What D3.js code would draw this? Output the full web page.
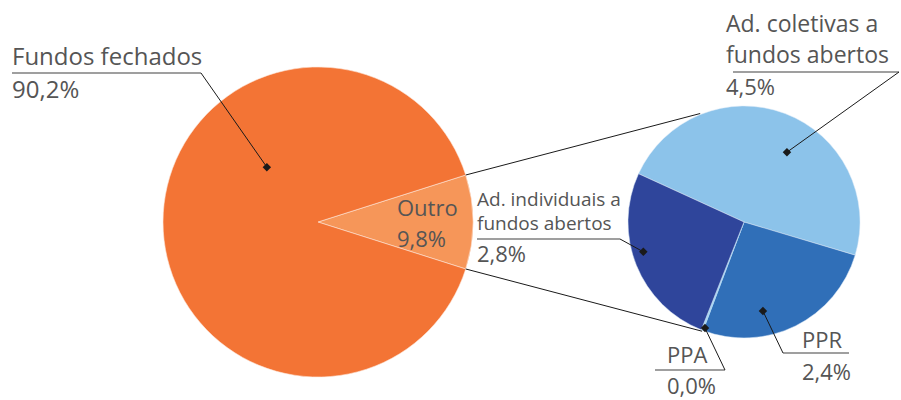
<!DOCTYPE html>
<html>
<head>
<meta charset="utf-8">
<script src="https://cdn.jsdelivr.net/npm/d3@7"></script>
<style>
  body { margin: 0; background: #fff; }
  svg text { font-family: "Open Sans", sans-serif; fill: #555; }
</style>
</head>
<body>
<svg id="chart" width="901" height="400"></svg>
<script>
// main pie
const mainCats = ['Outro', 'Fundos fechados'];
const mainValues = [9.8, 90.2];
const mainColors = ['#f69659', '#f37435'];

// breakdown of "Outro"
const subCats = ['Ad. coletivas a fundos abertos', 'PPR', 'PPA', 'Ad. individuais a fundos abertos'];
const subLabels = ['4,5%', '2,4%', '0,0%', '2,8%'];
// slice sizes as drawn in the picture (not the rounded labels)
const subShares = [4.68, 2.56, 0.025, 2.53];
const subColors = ['#8cc3ea', '#306fb8', '#a9d6f3', '#2f459b'];

const svg = d3.select('#chart');
const deg = Math.PI / 180;

const R = 155, cx = 318, cy = 222;
const r2 = 116, cx2 = 744, cy2 = 222;

// Outro centred on the right-hand side
const outroSpan = mainValues[0] / d3.sum(mainValues) * 2 * Math.PI;
const mainPie = d3.pie().sort(null)
  .startAngle(Math.PI / 2 - outroSpan / 2)
  .endAngle(Math.PI / 2 - outroSpan / 2 + 2 * Math.PI);
const mainArcs = mainPie(mainValues);

const arcMain = d3.arc().innerRadius(0).outerRadius(R);

const gMain = svg.append('g').attr('transform', `translate(${cx},${cy})`);
gMain.selectAll('path')
  .data(mainArcs)
  .join('path')
  .attr('d', arcMain)
  .attr('fill', (d, i) => mainColors[i])
  .attr('stroke', '#fde6d8')
  .attr('stroke-width', 0.6);

const subStart = -65.4 * deg;
const subPie = d3.pie().sort(null)
  .startAngle(subStart)
  .endAngle(subStart + 2 * Math.PI);
const subArcs = subPie(subShares);
const arcSub = d3.arc().innerRadius(0).outerRadius(r2);

const gSub = svg.append('g').attr('transform', `translate(${cx2},${cy2})`);
gSub.selectAll('path')
  .data(subArcs)
  .join('path')
  .attr('d', arcSub)
  .attr('fill', (d, i) => subColors[i])
  .attr('stroke', (d, i) => i === 2 ? subColors[2] : '#dbe9f6')
  .attr('stroke-width', (d, i) => i === 2 ? 0.8 : 0.5);

// connectors from the Outro slice to the second pie
const pt = (c, a, rad) => { const p = d3.pointRadial(a, rad); return [c[0] + p[0], c[1] + p[1]]; };
const connectors = [
  [pt([cx, cy], mainArcs[0].startAngle, R), pt([cx2, cy2], -22 * deg, r2 + 1)],
  [pt([cx, cy], mainArcs[0].endAngle, R), pt([cx2, cy2], 201 * deg, r2 + 1)]
];
svg.selectAll('.conn')
  .data(connectors)
  .join('line')
  .attr('class', 'conn')
  .attr('x1', d => d[0][0]).attr('y1', d => d[0][1])
  .attr('x2', d => d[1][0]).attr('y2', d => d[1][1])
  .attr('stroke', '#1a1a1a')
  .attr('stroke-width', 1);

// label layout: text lines, underline, leader to a dot inside the slice
const labels = [
  { lines: ['Fundos fechados'], pct: '90,2%', x: 12, base: [65], pctY: 98, size: 24, pctSize: 24,
    ul: [12, 201, 73], dot: pt([cx, cy], 317 * deg, 75) },
  { lines: ['Ad. individuais a', 'fundos abertos'], pct: subLabels[3], x: 477, base: [206, 230], pctY: 262, size: 19, pctSize: 22,
    ul: [477, 620, 239], dot: pt([cx2, cy2], 253.5 * deg, 105) },
  { lines: ['Ad. coletivas a', 'fundos abertos'], pct: subLabels[0], x: 726, base: [32, 63], pctY: 95, size: 23, pctSize: 22,
    ul: [733, 899, 72], dot: pt([cx2, cy2], 31.6 * deg, 82) },
  { lines: ['PPR'], pct: subLabels[1], x: 802, base: [348], pctY: 380, size: 22, pctSize: 22,
    ul: [849, 783, 353], dot: pt([cx2, cy2], 168 * deg, 91) },
  { lines: ['PPA'], pct: subLabels[2], x: 667, base: [363], pctY: 394, size: 22, pctSize: 22,
    ul: [655, 725, 370], dot: pt([cx2, cy2], 200.2 * deg, 113) }
];

const gLab = svg.append('g');
labels.forEach(l => {
  const g = gLab.append('g');
  g.append('line')
    .attr('x1', l.ul[0]).attr('x2', l.ul[1])
    .attr('y1', l.ul[2]).attr('y2', l.ul[2])
    .attr('stroke', '#7f7f7f')
    .attr('stroke-width', 1.5);
  g.append('line')
    .attr('x1', l.ul[1]).attr('y1', l.ul[2])
    .attr('x2', l.dot[0]).attr('y2', l.dot[1])
    .attr('stroke', '#1a1a1a')
    .attr('stroke-width', 1);
  g.append('rect')
    .attr('x', l.dot[0] - 3).attr('y', l.dot[1] - 3)
    .attr('width', 6).attr('height', 6)
    .attr('fill', '#1a1a1a')
    .attr('transform', `rotate(45,${l.dot[0]},${l.dot[1]})`);
  l.lines.forEach((t, i) => {
    g.append('text')
      .attr('x', l.x).attr('y', l.base[i])
      .attr('font-size', l.size + 'px')
      .text(t);
  });
  g.append('text')
    .attr('x', l.x).attr('y', l.pctY)
    .attr('font-size', l.pctSize + 'px')
    .text(l.pct);
});

// Outro label sits on the slice itself
gMain.append('text')
  .attr('x', 397 - cx).attr('y', 216 - cy)
  .attr('font-size', '22px')
  .text(mainCats[0]);
gMain.append('text')
  .attr('x', 397 - cx).attr('y', 247 - cy)
  .attr('font-size', '22px')
  .text('9,8%');
</script>
</body>
</html>
